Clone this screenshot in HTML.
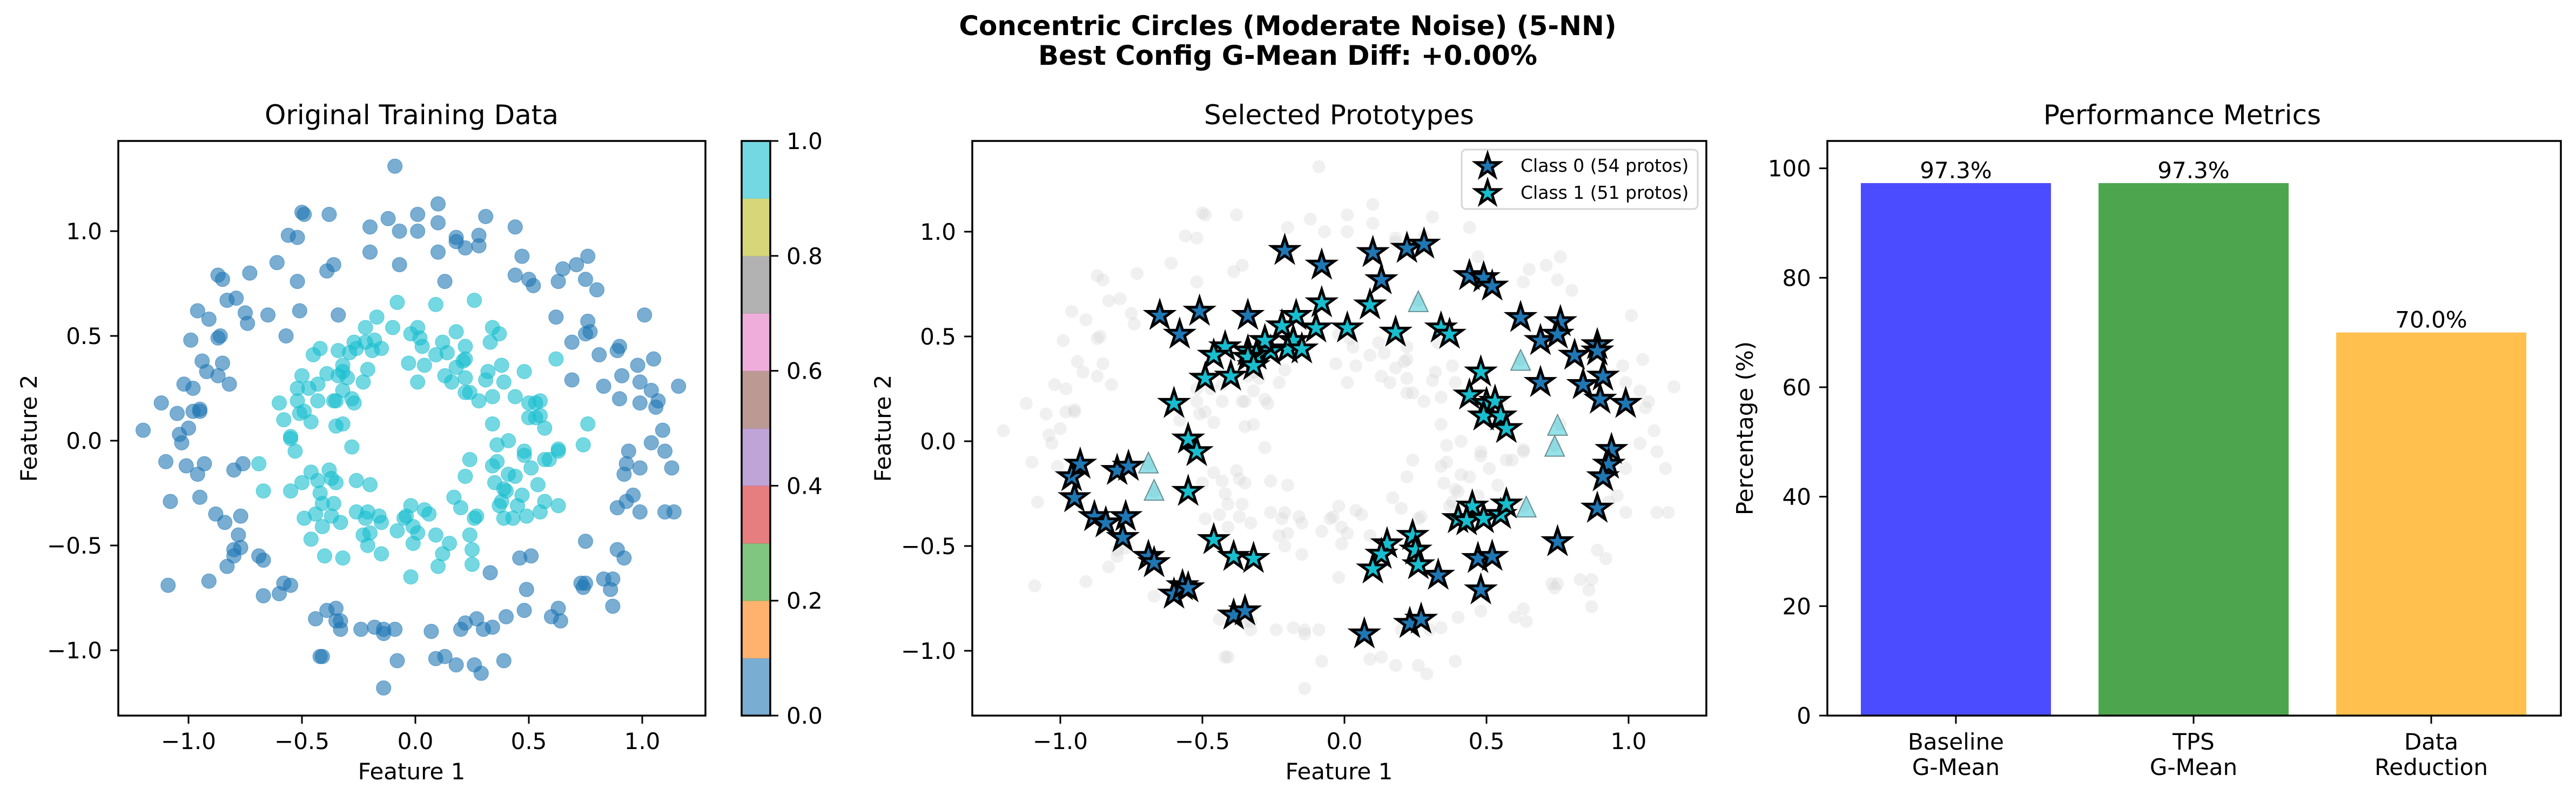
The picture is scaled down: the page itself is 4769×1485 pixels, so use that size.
<!DOCTYPE html>
<html><head><meta charset="utf-8">
<style>
html,body{margin:0;padding:0;background:#fff;}
svg{display:block;font-family:"DejaVu Sans","Liberation Sans",sans-serif;}
</style></head>
<body>
<svg id="fig" xmlns="http://www.w3.org/2000/svg" width="4769" height="1485" viewBox="0 0 4769 1485">
<rect x="0" y="0" width="4769" height="1485" fill="#fff"/>
<text x="2384" y="65" text-anchor="middle" font-size="50" font-weight="bold">Concentric Circles (Moderate Noise) (5-NN)</text>
<text x="2384" y="120" text-anchor="middle" font-size="50" font-weight="bold">Best Config G-Mean Diff: +0.00%</text>
<text x="762" y="230" text-anchor="middle" font-size="50">Original Training Data</text>
<text x="2479" y="230" text-anchor="middle" font-size="50">Selected Prototypes</text>
<text x="4040" y="230" text-anchor="middle" font-size="50">Performance Metrics</text>
<text x="762" y="1443" text-anchor="middle" font-size="42">Feature 1</text>
<text x="2479" y="1443" text-anchor="middle" font-size="42">Feature 1</text>
<text transform="translate(68,793) rotate(-90)" text-anchor="middle" font-size="42">Feature 2</text>
<text transform="translate(1649,793) rotate(-90)" text-anchor="middle" font-size="42">Feature 2</text>
<text transform="translate(3245,793) rotate(-90)" text-anchor="middle" font-size="42">Percentage (%)</text>
<g id="p1"></g>
<g id="cb"></g>
<g id="p2"></g>
<g id="p3"></g>
</svg>
<script>
const outerPts = [[-0.09,1.31],[0.10,1.13],[-0.50,1.09],[-0.49,1.08],[-0.38,1.08],[-0.12,1.06],[0.01,1.08],[0.31,1.07],[0.44,1.02],[-0.20,1.02],[-0.07,1.00],[0.01,1.00],[0.10,1.04],[0.18,0.97],[0.18,0.95],[0.22,0.92],[0.28,0.98],[0.28,0.93],[-0.56,0.98],[-0.52,0.97],[-0.20,0.90],[0.10,0.90],[0.47,0.88],[-0.61,0.85],[-0.36,0.84],[-0.39,0.81],[-0.07,0.84],[0.13,0.76],[0.44,0.79],[0.50,0.77],[0.52,0.74],[0.65,0.82],[0.63,0.76],[0.71,0.84],[0.76,0.88],[0.75,0.77],[0.80,0.72],[-0.52,0.76],[-0.73,0.80],[-0.87,0.79],[-0.85,0.77],[-0.79,0.68],[-0.83,0.67],[-0.96,0.62],[-0.91,0.58],[-0.75,0.61],[-0.74,0.56],[-0.65,0.60],[-0.51,0.62],[-0.34,0.60],[-0.57,0.50],[-0.99,0.48],[-0.87,0.49],[-0.86,0.50],[-0.94,0.38],[-0.92,0.33],[-0.87,0.31],[-0.85,0.37],[-0.82,0.27],[-1.02,0.27],[-0.98,0.25],[-1.12,0.18],[-1.05,0.13],[-0.98,0.14],[-0.95,0.14],[-0.95,0.15],[-1.20,0.05],[-1.04,0.03],[-1.03,-0.01],[-1.00,0.06],[-1.10,-0.10],[-1.01,-0.12],[-0.93,-0.11],[-0.96,-0.16],[-0.95,-0.27],[-1.08,-0.29],[-0.80,-0.14],[-0.76,-0.11],[-0.88,-0.35],[-0.84,-0.39],[-0.77,-0.36],[-0.78,-0.45],[-0.80,-0.52],[-0.80,-0.55],[-0.77,-0.51],[-0.69,-0.55],[-0.67,-0.57],[-0.83,-0.60],[-0.91,-0.67],[-1.09,-0.69],[-0.67,-0.74],[-0.60,-0.73],[-0.58,-0.68],[-0.55,-0.69],[-0.44,-0.85],[-0.39,-0.81],[-0.35,-0.80],[-0.35,-0.86],[-0.33,-0.90],[-0.33,-0.86],[-0.42,-1.03],[-0.41,-1.03],[-0.24,-0.90],[-0.18,-0.89],[-0.14,-0.90],[-0.14,-0.92],[-0.09,-0.90],[-0.08,-1.05],[-0.14,-1.18],[0.07,-0.91],[0.09,-1.04],[0.13,-1.03],[0.18,-1.07],[0.20,-0.90],[0.22,-0.87],[0.27,-0.85],[0.26,-1.07],[0.29,-1.11],[0.30,-0.90],[0.34,-0.89],[0.39,-1.05],[0.40,-0.84],[0.48,-0.81],[0.33,-0.63],[0.46,-0.56],[0.51,-0.55],[0.49,-0.71],[0.60,-0.84],[0.63,-0.80],[0.64,-0.86],[0.73,-0.68],[0.74,-0.70],[0.75,-0.68],[0.83,-0.66],[0.87,-0.66],[0.86,-0.71],[0.87,-0.79],[0.75,-0.48],[0.89,-0.52],[0.92,-0.56],[0.89,-0.32],[0.93,-0.29],[0.96,-0.26],[0.99,-0.34],[1.10,-0.34],[1.14,-0.34],[0.92,-0.16],[0.93,-0.11],[0.94,-0.05],[0.99,-0.13],[1.04,-0.01],[1.10,-0.05],[1.13,-0.13],[1.09,0.05],[0.99,0.18],[1.06,0.16],[1.07,0.19],[1.04,0.24],[0.99,0.28],[1.16,0.26],[0.90,0.20],[0.91,0.31],[0.89,0.43],[0.90,0.45],[0.81,0.41],[0.83,0.26],[0.69,0.29],[0.98,0.36],[1.05,0.39],[1.01,0.60],[0.62,0.59],[0.69,0.47],[0.75,0.51],[0.77,0.52],[0.76,0.57]];
const innerPts = [[-0.08,0.66],[0.09,0.65],[0.26,0.67],[-0.17,0.59],[-0.22,0.54],[-0.10,0.54],[-0.02,0.51],[0.01,0.54],[0.18,0.52],[0.34,0.54],[0.37,0.51],[0.33,0.47],[-0.27,0.47],[-0.26,0.44],[-0.18,0.48],[-0.19,0.43],[-0.15,0.44],[-0.22,0.47],[-0.34,0.43],[-0.29,0.42],[-0.42,0.44],[-0.45,0.41],[0.02,0.49],[0.03,0.45],[0.09,0.41],[0.12,0.47],[0.14,0.42],[0.22,0.45],[-0.03,0.37],[0.04,0.36],[0.22,0.39],[0.21,0.38],[0.18,0.35],[0.13,0.31],[0.16,0.28],[0.22,0.30],[0.01,0.28],[0.38,0.36],[0.32,0.33],[0.31,0.29],[0.48,0.33],[0.39,0.28],[0.34,0.21],[0.44,0.21],[0.22,0.23],[0.24,0.23],[0.28,0.19],[0.50,0.18],[0.53,0.18],[0.55,0.19],[0.50,0.11],[0.53,0.11],[0.55,0.12],[0.57,0.06],[0.62,0.39],[0.76,0.08],[0.34,0.08],[0.41,0.00],[0.36,-0.02],[0.74,-0.02],[0.48,-0.05],[0.48,-0.07],[0.63,-0.04],[0.63,-0.05],[0.57,-0.09],[0.59,-0.09],[0.34,-0.12],[0.36,-0.10],[0.51,-0.13],[0.24,-0.09],[0.22,-0.17],[0.41,-0.16],[0.44,-0.17],[0.35,-0.20],[0.54,-0.21],[0.39,-0.23],[0.40,-0.24],[0.47,-0.26],[0.38,-0.29],[0.37,-0.31],[0.45,-0.31],[0.57,-0.29],[0.63,-0.31],[0.39,-0.37],[0.43,-0.37],[0.49,-0.36],[0.55,-0.34],[0.17,-0.27],[0.20,-0.32],[0.26,-0.37],[0.27,-0.36],[0.24,-0.45],[0.25,-0.52],[0.25,-0.59],[-0.02,-0.31],[0.04,-0.33],[0.06,-0.35],[-0.05,-0.37],[-0.04,-0.36],[-0.01,-0.41],[0.01,-0.44],[-0.01,-0.49],[0.09,-0.45],[0.15,-0.49],[0.12,-0.54],[0.10,-0.60],[-0.02,-0.65],[-0.08,-0.43],[-0.26,-0.34],[-0.22,-0.37],[-0.21,-0.34],[-0.16,-0.36],[-0.15,-0.39],[-0.20,-0.21],[-0.26,-0.19],[-0.23,-0.45],[-0.20,-0.44],[-0.21,-0.50],[-0.15,-0.54],[-0.32,-0.56],[-0.40,-0.55],[-0.46,-0.47],[-0.41,-0.41],[-0.44,-0.35],[-0.49,-0.37],[-0.37,-0.36],[-0.33,-0.39],[-0.36,-0.30],[-0.41,-0.30],[-0.42,-0.25],[-0.46,-0.15],[-0.50,-0.20],[-0.43,-0.19],[-0.37,-0.18],[-0.35,-0.20],[-0.38,-0.14],[-0.55,-0.24],[-0.67,-0.24],[-0.69,-0.11],[-0.53,-0.05],[-0.55,0.01],[-0.55,0.02],[-0.58,0.10],[-0.60,0.18],[-0.52,0.19],[-0.51,0.13],[-0.49,0.14],[-0.46,0.09],[-0.52,0.25],[-0.50,0.31],[-0.47,0.25],[-0.43,0.27],[-0.43,0.19],[-0.39,0.32],[-0.34,0.31],[-0.32,0.36],[-0.30,0.30],[-0.32,0.24],[-0.36,0.19],[-0.35,0.19],[-0.35,0.07],[-0.32,0.08],[-0.23,0.28],[-0.21,0.34],[-0.28,-0.03],[-0.28,0.20],[-0.27,0.18],[-0.32,0.33]];
const proto0 = [[-0.21,0.91],[-0.08,0.84],[0.10,0.90],[0.22,0.92],[0.28,0.94],[0.13,0.77],[0.44,0.79],[0.49,0.78],[0.52,0.74],[-0.65,0.60],[-0.51,0.62],[-0.34,0.60],[-0.58,0.51],[0.62,0.59],[0.69,0.48],[0.76,0.57],[0.75,0.51],[0.81,0.41],[0.89,0.46],[0.89,0.43],[0.91,0.31],[0.69,0.28],[0.84,0.27],[0.90,0.20],[0.99,0.18],[0.94,-0.04],[0.93,-0.11],[0.91,-0.17],[0.89,-0.32],[0.75,-0.48],[0.47,-0.56],[0.52,-0.55],[0.48,-0.71],[0.33,-0.64],[0.23,-0.87],[0.27,-0.85],[0.07,-0.92],[-0.39,-0.83],[-0.35,-0.81],[-0.60,-0.73],[-0.57,-0.69],[-0.55,-0.70],[-0.69,-0.55],[-0.67,-0.58],[-0.78,-0.46],[-0.77,-0.36],[-0.88,-0.36],[-0.84,-0.39],[-0.95,-0.27],[-0.96,-0.17],[-0.93,-0.11],[-0.80,-0.14],[-0.76,-0.12]];
const proto1 = [[-0.08,0.66],[0.09,0.65],[-0.17,0.60],[-0.22,0.55],[-0.10,0.54],[0.01,0.54],[0.18,0.52],[0.34,0.54],[0.37,0.51],[-0.18,0.48],[-0.20,0.44],[-0.15,0.44],[-0.26,0.43],[-0.28,0.48],[-0.42,0.45],[-0.46,0.41],[-0.34,0.43],[-0.31,0.41],[-0.34,0.40],[-0.32,0.36],[-0.40,0.31],[-0.49,0.30],[-0.60,0.18],[-0.55,0.01],[-0.52,-0.05],[-0.55,-0.24],[0.48,0.33],[0.44,0.22],[0.50,0.18],[0.53,0.19],[0.49,0.12],[0.55,0.12],[0.57,0.06],[0.45,-0.31],[0.40,-0.37],[0.43,-0.38],[0.49,-0.37],[0.55,-0.35],[0.57,-0.30],[0.24,-0.45],[0.25,-0.52],[0.26,-0.59],[0.15,-0.49],[0.13,-0.54],[0.10,-0.61],[-0.46,-0.47],[-0.39,-0.55],[-0.32,-0.56]];
const triPts = [[0.26,0.66],[0.62,0.38],[0.75,0.07],[0.74,-0.03],[0.64,-0.32],[-0.69,-0.11],[-0.67,-0.24]];
const xTicks = [-1.0,-0.5,0.0,0.5,1.0];
const yTicks = [-1.0,-0.5,0.0,0.5,1.0];
const cbTicks = [0.0,0.2,0.4,0.6,0.8,1.0];
const cbColors = ["#1f77b4","#ff7f0e","#2ca02c","#d62728","#9467bd","#8c564b","#e377c2","#7f7f7f","#bcbd22","#17becf"];
const barCategories = [["Baseline","G-Mean"],["TPS","G-Mean"],["Data","Reduction"]];
const barValues = [97.3,97.3,70.0];
const barLabels = ["97.3%","97.3%","70.0%"];
const barColors = ["#4b4bff","#4da64d","#ffc04d"];
const pctTicks = [0,20,40,60,80,100];

const NS="http://www.w3.org/2000/svg";
function mk(parent, tag, attrs, txt){
  const e=document.createElementNS(NS,tag);
  for(const k in attrs) e.setAttribute(k,attrs[k]);
  if(txt!==undefined) e.textContent=txt;
  parent.appendChild(e); return e;
}
function fmt(v){ const s=v.toFixed(1); return s.replace("-","\u2212"); }
const TOP=261, BOT=1325;
const sy1 = y => 816 - 388*y;
const sy2 = y => 817 - 388*y;
const sx1 = x => 769 + 420*x;
const sx2 = x => 2489 + 526*x;
const bx = i => 3621 + 440*i;
const by = v => 1325 - 1064*v/105;

function axesFrame(g, L, R, name){
  const r=mk(g,"rect",{x:L,y:TOP,width:R-L,height:BOT-TOP,fill:"none",stroke:"#000","stroke-width":3.5});
  
  
}
function xTickMarks(g, sx, name){
  xTicks.forEach(t=>{
    const x=sx(t);
    const l=mk(g,"line",{x1:x,y1:BOT,x2:x,y2:BOT+15,stroke:"#000","stroke-width":3});
    
    
    const tx=mk(g,"text",{x:x,y:1387,"text-anchor":"middle","font-size":42},fmt(t));
    
    
  });
}
function yTickMarks(g, sy, L, name){
  yTicks.forEach(t=>{
    const y=sy(t);
    const l=mk(g,"line",{x1:L-15,y1:y,x2:L,y2:y,stroke:"#000","stroke-width":3});
    
    
    const tx=mk(g,"text",{x:L-30,y:y+15,"text-anchor":"end","font-size":42},fmt(t));
    
    
  });
}
function starPath(cx,cy,R){
  const r=R*0.381966; let d="";
  for(let i=0;i<10;i++){
    const a=-Math.PI/2+i*Math.PI/5, rr=i%2?r:R;
    d+=(i?"L":"M")+(cx+rr*Math.cos(a)).toFixed(1)+","+(cy+rr*Math.sin(a)).toFixed(1);
  }
  return d+"Z";
}

// Panel 1
const p1=document.getElementById("p1");
outerPts.forEach(p=>{
  const c=mk(p1,"circle",{cx:sx1(p[0]),cy:sy1(p[1]),r:13.5,fill:"#1f77b4","fill-opacity":0.6,stroke:"#1f77b4","stroke-opacity":0.6,"stroke-width":1});
  
  
});
innerPts.forEach(p=>{
  const c=mk(p1,"circle",{cx:sx1(p[0]),cy:sy1(p[1]),r:13.5,fill:"#17becf","fill-opacity":0.6,stroke:"#17becf","stroke-opacity":0.6,"stroke-width":1});
  
  
});
axesFrame(p1,219,1306,"panel1");
xTickMarks(p1,sx1,"panel1");
yTickMarks(p1,sy1,219,"panel1");

// Colorbar
const cb=document.getElementById("cb");
const cbL=1373, cbR=1426, cbH=BOT-TOP;
cbColors.forEach((col,i)=>{
  const y0=BOT-cbH*(i+1)/10;
  const r=mk(cb,"rect",{x:cbL,y:y0,width:cbR-cbL,height:cbH/10+0.5,fill:col,"fill-opacity":0.6});
  
  
});
const cbf=mk(cb,"rect",{x:cbL,y:TOP,width:cbR-cbL,height:cbH,fill:"none",stroke:"#000","stroke-width":3.5});


cbTicks.forEach(t=>{
  const y=BOT-cbH*t;
  const l=mk(cb,"line",{x1:cbR,y1:y,x2:cbR+15,y2:y,stroke:"#000","stroke-width":3});
  
  
  const tx=mk(cb,"text",{x:cbR+30,y:y+15,"font-size":42},t.toFixed(1));
  
  
});

// Panel 2
const p2=document.getElementById("p2");
outerPts.concat(innerPts).forEach(p=>{
  const c=mk(p2,"circle",{cx:sx2(p[0]),cy:sy2(p[1]),r:12,fill:"#d3d3d3","fill-opacity":0.35});
  
  
});
triPts.forEach(p=>{
  const x=sx2(p[0]), y=sy2(p[1]);
  const t=mk(p2,"path",{d:`M${x},${y-22}L${x+18},${y+16}L${x-18},${y+16}Z`,fill:"#17becf","fill-opacity":0.45,stroke:"#6a8f94","stroke-width":2});
  
  
});
proto0.forEach(p=>{
  const s=mk(p2,"path",{d:starPath(sx2(p[0]),sy2(p[1]),25),fill:"#1f77b4",stroke:"#000","stroke-width":5,"stroke-linejoin":"miter"});
  
  
});
proto1.forEach(p=>{
  const s=mk(p2,"path",{d:starPath(sx2(p[0]),sy2(p[1]),25),fill:"#17becf",stroke:"#000","stroke-width":5,"stroke-linejoin":"miter"});
  
  
});
axesFrame(p2,1800,3159,"panel2");
xTickMarks(p2,sx2,"panel2");
yTickMarks(p2,sy2,1800,"panel2");
// legend
const lg=mk(p2,"g",{});


const lb=mk(lg,"rect",{x:2706,y:277,width:437,height:110,rx:8,fill:"#fff","fill-opacity":0.8,stroke:"#d6d6d6","stroke-width":3});


[["#1f77b4","Class 0 (54 protos)",306],["#17becf","Class 1 (51 protos)",356]].forEach(e=>{
  const s=mk(lg,"path",{d:starPath(2754,e[2]+2,23),fill:e[0],stroke:"#000","stroke-width":5});
  
  
  const t=mk(lg,"text",{x:2815,y:e[2]+12,"font-size":33},e[1]);
  
  
});

// Panel 3
const p3=document.getElementById("p3");
barValues.forEach((v,i)=>{
  const r=mk(p3,"rect",{x:bx(i)-176,y:by(v),width:352,height:BOT-by(v),fill:barColors[i]});
  
  
  const t=mk(p3,"text",{x:bx(i),y:by(v)-9,"text-anchor":"middle","font-size":42},barLabels[i]);
  
  
  const l=mk(p3,"line",{x1:bx(i),y1:BOT,x2:bx(i),y2:BOT+15,stroke:"#000","stroke-width":3});
  
  
  barCategories[i].forEach((s,j)=>{
    const tx=mk(p3,"text",{x:bx(i),y:1388+47*j,"text-anchor":"middle","font-size":42},s);
    
    
  });
});
axesFrame(p3,3383,4741,"panel3");
pctTicks.forEach(t=>{
  const y=by(t);
  const l=mk(p3,"line",{x1:3368,y1:y,x2:3383,y2:y,stroke:"#000","stroke-width":3});
  
  
  const tx=mk(p3,"text",{x:3353,y:y+15,"text-anchor":"end","font-size":42},String(t));
  
  
});
</script>
</body></html>
